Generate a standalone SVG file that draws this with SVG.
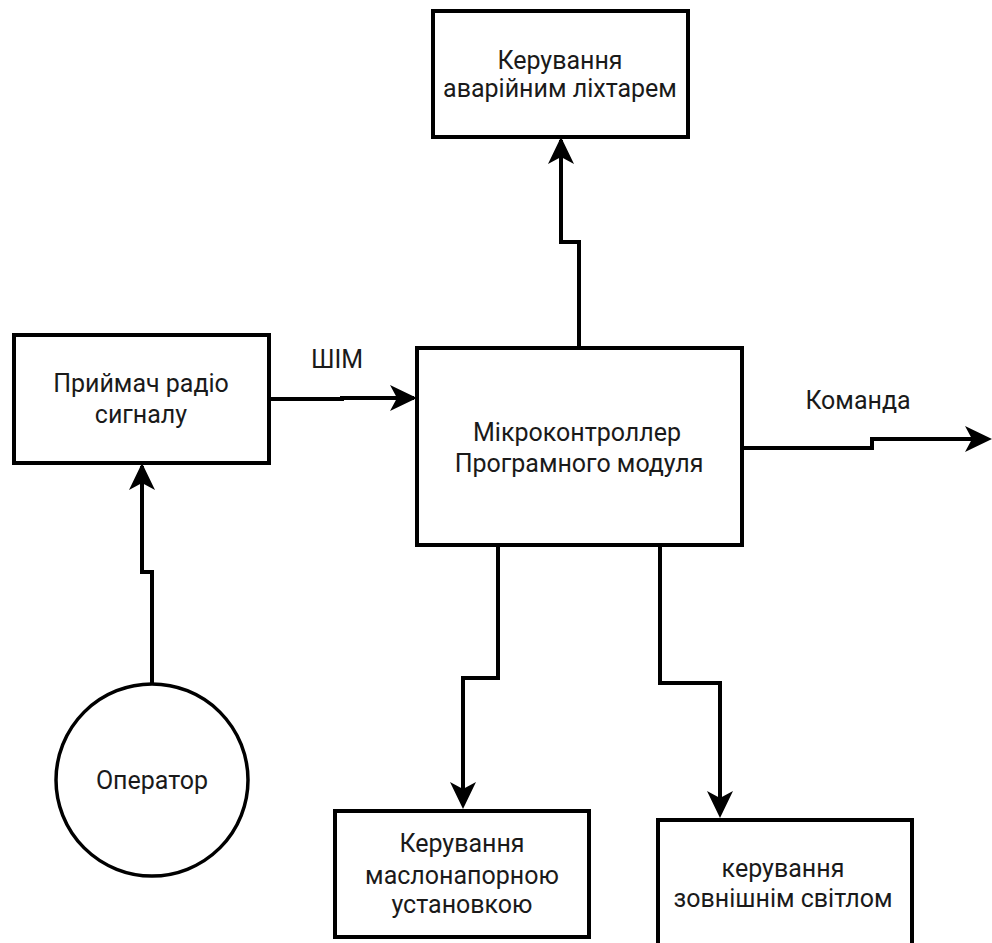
<svg xmlns="http://www.w3.org/2000/svg" width="992" height="943" viewBox="0 0 992 943">
<style>
.box{fill:#fff;stroke:#000;stroke-width:4}
.t{font-family:Roboto,"Liberation Sans",sans-serif;font-size:25px;fill:#1a1a1a;text-anchor:middle;dominant-baseline:central}
.c{fill:none;stroke:#000;stroke-width:4}
</style>
<rect width="992" height="943" fill="#fff"/>
<g id="connectors">
<path class="c" d="M579,348 V242 H561 V140"/>
<path d="M561,137 L574,164 L561,157 L548,164 Z"/>
<path class="c" d="M269,399 H342 V398 H414"/>
<path d="M417,398 L390,385 L397,398 L390,411 Z"/>
<path class="c" d="M152,683 V572 H142 V466"/>
<path d="M142,463 L155,490 L142,483 L129,490 Z"/>
<path class="c" d="M743,448 H872 V439 H988"/>
<path d="M992,439 L965,426 L972,439 L965,452 Z"/>
<path class="c" d="M498,545 V678 H463 V805"/>
<path d="M463,809 L450,782 L463,789 L476,782 Z"/>
<path class="c" d="M660,545 V683 H720 V814"/>
<path d="M720,818 L707,791 L720,798 L733,791 Z"/>
<text class="t" x="337" y="359">ШІМ</text>
<text class="t" x="858" y="400">Команда</text>
</g>
<g id="n-top">
<rect class="box" x="433" y="11" width="255" height="126"/>
<text class="t" x="560" y="60">Керування</text>
<text class="t" x="560" y="88">аварійним ліхтарем</text>
</g>
<g id="n-receiver">
<rect class="box" x="14" y="335" width="255" height="128"/>
<text class="t" x="141" y="383">Приймач радіо</text>
<text class="t" x="141" y="414">сигналу</text>
</g>
<g id="n-mcu">
<rect class="box" x="417" y="348" width="325" height="197"/>
<text class="t" x="577" y="432">Мікроконтроллер</text>
<text class="t" x="579" y="463">Програмного модуля</text>
</g>
<g id="n-operator">
<circle cx="152" cy="780" r="96" fill="#fff" stroke="#000" stroke-width="3.5"/>
<text class="t" x="152" y="780">Оператор</text>
</g>
<g id="n-oil">
<rect class="box" x="335" y="811" width="254" height="126"/>
<text class="t" x="462" y="843">Керування</text>
<text class="t" x="462" y="875">маслонапорною</text>
<text class="t" x="462" y="904">установкою</text>
</g>
<g id="n-light">
<rect class="box" x="658" y="820" width="254" height="140"/>
<text class="t" x="783" y="868">керування</text>
<text class="t" x="783" y="898">зовнішнім світлом</text>
</g>
</svg>
